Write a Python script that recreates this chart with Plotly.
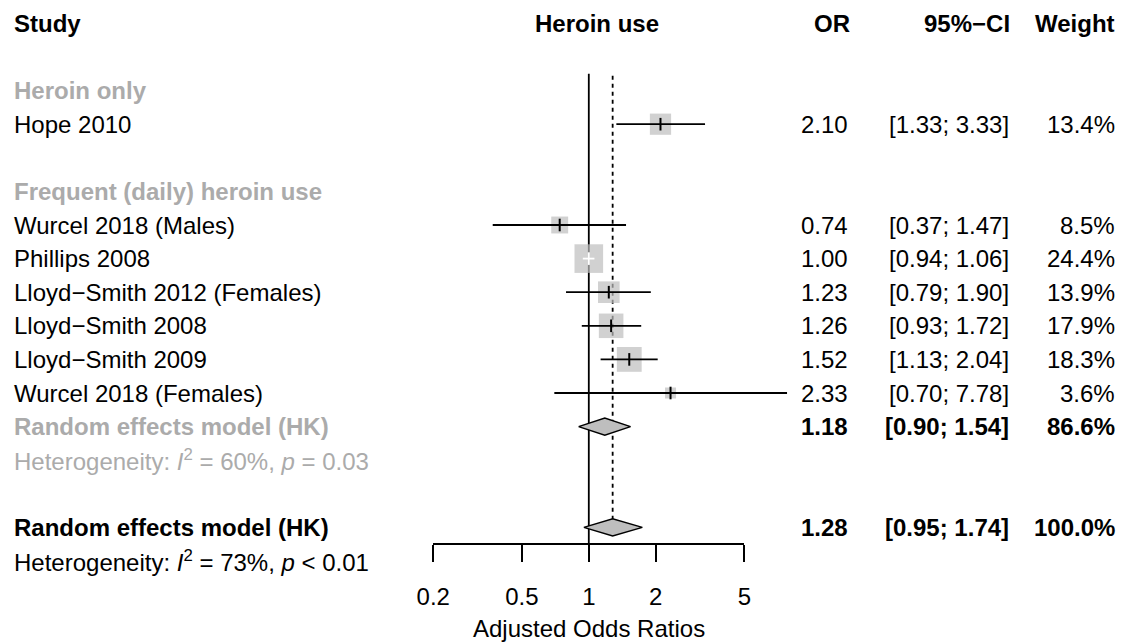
import math
import plotly.graph_objects as go

# ---------------- data ----------------
studies = ["Hope 2010", "Wurcel 2018 (Males)", "Phillips 2008",
           "Lloyd\u2212Smith 2012 (Females)", "Lloyd\u2212Smith 2008",
           "Lloyd\u2212Smith 2009", "Wurcel 2018 (Females)"]
study_rows = [3, 6, 7, 8, 9, 10, 11]
odds = [2.10, 0.74, 1.00, 1.23, 1.26, 1.52, 2.33]
ci_low = [1.33, 0.37, 0.94, 0.79, 0.93, 1.13, 0.70]
ci_high = [3.33, 1.47, 1.06, 1.90, 1.72, 2.04, 7.78]
weights = [13.4, 8.5, 24.4, 13.9, 17.9, 18.3, 3.6]

group_labels = ["Heroin only", "Frequent (daily) heroin use"]
group_rows = [2, 5]

pooled_labels = ["Random effects model (HK)", "Random effects model (HK)"]
pooled_rows = [12, 15]
pooled_or = [1.18, 1.28]
pooled_low = [0.90, 0.95]
pooled_high = [1.54, 1.74]
pooled_weight = [86.6, 100.0]
pooled_colors = ["#ABABAB", "#000000"]

het_texts = ["Heterogeneity: <i>I</i><sup>2</sup> = 60%, <i>p</i> = 0.03",
             "Heterogeneity: <i>I</i><sup>2</sup> = 73%, <i>p</i> &lt; 0.01"]
het_rows = [13, 16]
het_colors = ["#ABABAB", "#000000"]

headers = ["Study", "Heroin use", "OR", "95%\u2212CI", "Weight"]
tick_vals = [0.2, 0.5, 1, 2, 5]
tick_text = ["0.2", "0.5", "1", "2", "5"]
x_title = "Adjusted Odds Ratios"
null_value = 1
ref_top, ref_bottom = 1.5, 15.5
dash_top = 1.56

# ---------------- style ----------------
W, H = 1126, 644
FONT = "Liberation Sans, Arial, Helvetica, sans-serif"
FS = 24
GRAY_TXT = "#ABABAB"
SQ = "#BEBEBE"
LW = 1.8

row0_px, row_px = 23.4, 33.6
px_one, px_dec = 588.8, 222.5

def px(x):
    return x / W

fig = go.Figure()

# reference lines
fig.add_trace(go.Scatter(x=[null_value, null_value], y=[ref_top, ref_bottom], mode="lines",
                         line=dict(color="black", width=LW), hoverinfo="skip", showlegend=False))
fig.add_trace(go.Scatter(x=[pooled_or[-1], pooled_or[-1]], y=[dash_top, pooled_rows[-1]], mode="lines",
                         line=dict(color="black", width=LW, dash="4px,4px"), hoverinfo="skip", showlegend=False))

# diamonds
for r, est, lo, hi in zip(pooled_rows, pooled_or, pooled_low, pooled_high):
    fig.add_trace(go.Scatter(x=[lo, est, hi, est, lo], y=[r, r - 0.255, r, r + 0.255, r],
                             mode="lines", fill="toself", fillcolor=SQ,
                             line=dict(color="black", width=1.5), hoverinfo="skip", showlegend=False))

# squares
sizes = [5.8 * math.sqrt(w) for w in weights]
fig.add_trace(go.Scatter(x=odds, y=study_rows, mode="markers",
                         marker=dict(symbol="square", size=sizes, color=SQ, line=dict(width=0)),
                         hoverinfo="skip", showlegend=False))

# CI lines and estimate ticks
for r, est, lo, hi, s in zip(study_rows, odds, ci_low, ci_high, sizes):
    inside = (math.log10(hi) - math.log10(lo)) * px_dec < s
    col = "white" if inside else "black"
    fig.add_trace(go.Scatter(x=[lo, hi], y=[r, r], mode="lines",
                             line=dict(color=col, width=LW), hoverinfo="skip", showlegend=False))
    fig.add_trace(go.Scatter(x=[est], y=[r], mode="markers",
                             marker=dict(symbol="line-ns", size=9, line=dict(color=col, width=2)),
                             hoverinfo="skip", showlegend=False))

# invisible trace for the tick axis
fig.add_trace(go.Scatter(x=tick_vals, y=[ref_bottom] * len(tick_vals), xaxis="x2", mode="markers",
                         marker=dict(opacity=0), hoverinfo="skip", showlegend=False))

ann = []
def add(text, x, y, anchor, color="black", yref="y"):
    ann.append(dict(text=text, x=x, y=y, xref="paper", yref=yref, xanchor=anchor, yanchor="middle",
                    showarrow=False, font=dict(family=FONT, size=FS, color=color)))

# headers
add("<b>%s</b>" % headers[0], px(12), 0, "left")
add("<b>%s</b>" % headers[1], px(597), 0, "center")
add("<b>%s</b>" % headers[2], px(852), 0, "right")
add("<b>%s</b>" % headers[3], px(1012), 0, "right")
add("<b>%s</b>" % headers[4], px(1117), 0, "right")

for lab, r in zip(group_labels, group_rows):
    add("<b>%s</b>" % lab, px(12), r, "left", GRAY_TXT)

for lab, r, est, lo, hi, w in zip(studies, study_rows, odds, ci_low, ci_high, weights):
    add(lab, px(12), r, "left")
    add("%.2f" % est, px(850), r, "right")
    add("[%.2f; %.2f]" % (lo, hi), px(1011), r, "right")
    add("%.1f%%" % w, px(1117), r, "right")

for lab, r, est, lo, hi, w, c in zip(pooled_labels, pooled_rows, pooled_or, pooled_low,
                                     pooled_high, pooled_weight, pooled_colors):
    add("<b>%s</b>" % lab, px(12), r, "left", c)
    add("<b>%.2f</b>" % est, px(850), r, "right")
    add("<b>[%.2f; %.2f]</b>" % (lo, hi), px(1011), r, "right")
    add("<b>%.1f%%</b>" % w, px(1117), r, "right")

for t, r, c in zip(het_texts, het_rows, het_colors):
    add(t, px(12), r, "left", c)

ann.append(dict(text=x_title, x=px(px_one), y=1 - 628 / H, xref="paper", yref="paper",
                xanchor="center", yanchor="middle", showarrow=False,
                font=dict(family=FONT, size=FS, color="black")))

log_lo = -px_one / px_dec
log_hi = (W - px_one) / px_dec
y_top = -row0_px / row_px
y_bot = y_top + H / row_px
axis_px = 544

fig.update_layout(
    template="none",
    width=W, height=H, margin=dict(l=0, r=0, t=0, b=0, pad=0, autoexpand=False),
    paper_bgcolor="white", plot_bgcolor="rgba(0,0,0,0)",
    xaxis=dict(type="log", range=[log_lo, log_hi], domain=[0, 1], visible=False,
               fixedrange=True, automargin=False),
    xaxis2=dict(type="log", range=[math.log10(tick_vals[0]), math.log10(tick_vals[-1])],
                domain=[(px_one + px_dec * math.log10(tick_vals[0])) / W,
                        (px_one + px_dec * math.log10(tick_vals[-1])) / W],
                anchor="free", position=1 - axis_px / H, side="bottom",
                tickmode="array", tickvals=tick_vals, ticktext=tick_text,
                ticks="outside", ticklen=17, tickwidth=LW, tickcolor="black",
                showline=True, linewidth=LW, linecolor="black", showgrid=False, zeroline=False,
                ticklabelstandoff=14, fixedrange=True, automargin=False,
                tickfont=dict(family=FONT, size=FS, color="black")),
    yaxis=dict(range=[y_bot, y_top], visible=False, fixedrange=True, automargin=False),
    annotations=ann,
    showlegend=False,
)

fig.write_html("out.html")
